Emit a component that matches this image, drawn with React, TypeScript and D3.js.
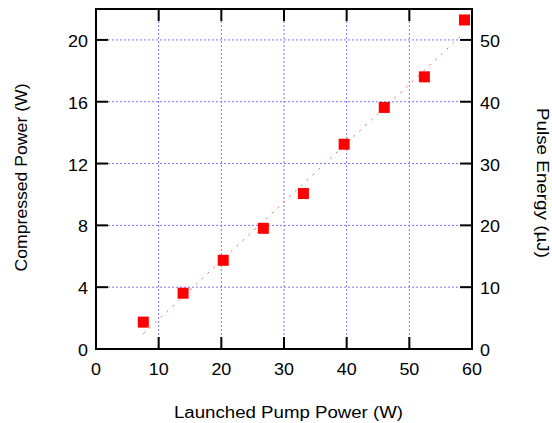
import React from "react";
import * as d3 from "d3";

// measured points
const pumpPower = [7.55, 13.9, 20.3, 26.7, 33.1, 39.6, 46.0, 52.4, 58.8];
const compressedPower = [1.74, 3.61, 5.74, 7.81, 10.06, 13.25, 15.63, 17.61, 21.29];

// linear fit (dotted line)
const fitX = [7.55, 58.3];
const fitY = [0.99, 20.28];

const xTicks = [0, 10, 20, 30, 40, 50, 60];
const leftTicks = [0, 4, 8, 12, 16, 20];
const rightTicks = [0, 10, 20, 30, 40, 50];

const width = 552;
const height = 423;
const margin = { top: 9, right: 80, bottom: 74, left: 96 };

export default function App() {
  const x = d3.scaleLinear().domain([0, 60]).range([margin.left, width - margin.right]);
  const y = d3.scaleLinear().domain([0, 22]).range([height - margin.bottom, margin.top]);
  const y2 = d3.scaleLinear().domain([0, 55]).range([height - margin.bottom, margin.top]);

  const x0 = x.range()[0];
  const x1 = x.range()[1];
  const yb = y.range()[0];
  const yt = y.range()[1];
  const tick = 12;
  const font = "'Liberation Sans', Arial, sans-serif";
  const stretch = "scale(1.12,1)"; // the reference text is a bit wide

  const fitLine = d3
    .line<number>()
    .x((d) => x(fitX[d]))
    .y((d) => y(fitY[d]));

  const sq = 11;

  return (
    <svg width={width} height={height} style={{ position: "absolute", left: 0, top: 0 }} fontFamily={font}>
      <rect width={width} height={height} fill="white" />
      {/* grid */}
      <g stroke="#7777ff" strokeWidth={1} strokeDasharray="2,2">
        {xTicks.slice(1, -1).map((t) => (
          <line key={"gx" + t} x1={x(t)} x2={x(t)} y1={yt} y2={yb} />
        ))}
        {leftTicks.slice(1).map((t) => (
          <line key={"gy" + t} x1={x0} x2={x1} y1={y(t)} y2={y(t)} />
        ))}
      </g>
      {/* fit */}
      <path
        d={fitLine([0, 1]) || ""}
        fill="none"
        stroke="#ff6060"
        strokeWidth={1}
        strokeDasharray="2,6"
      />
      {/* points */}
      {pumpPower.map((p, i) => (
        <rect
          key={i}
          x={x(p) - sq / 2}
          y={y(compressedPower[i]) - sq / 2}
          width={sq}
          height={sq}
          fill="#ff0000"
        />
      ))}
      {/* frame */}
      <rect x={x0} y={yt} width={x1 - x0} height={yb - yt} fill="none" stroke="black" strokeWidth={2} />
      {/* ticks */}
      <g stroke="black" strokeWidth={2}>
        {xTicks.map((t) => (
          <g key={"tx" + t}>
            <line x1={x(t)} x2={x(t)} y1={yb} y2={yb - tick} />
            <line x1={x(t)} x2={x(t)} y1={yt} y2={yt + tick} />
          </g>
        ))}
        {leftTicks.map((t) => (
          <line key={"tl" + t} x1={x0} x2={x0 + tick} y1={y(t)} y2={y(t)} />
        ))}
        {rightTicks.map((t) => (
          <line key={"tr" + t} x1={x1} x2={x1 - tick} y1={y2(t)} y2={y2(t)} />
        ))}
      </g>
      {/* tick labels */}
      <g fontSize={16} fill="black">
        {xTicks.map((t) => (
          <text key={"lx" + t} transform={`translate(${x(t)},${yb + 26}) ${stretch}`} textAnchor="middle">
            {t}
          </text>
        ))}
        {leftTicks.map((t) => (
          <text key={"ll" + t} transform={`translate(${x0 - 8},${y(t) + 7}) ${stretch}`} textAnchor="end">
            {t}
          </text>
        ))}
        {rightTicks.map((t) => (
          <text key={"lr" + t} transform={`translate(${x1 + 8},${y2(t) + 7}) ${stretch}`} textAnchor="start">
            {t}
          </text>
        ))}
      </g>
      {/* axis titles */}
      <g fontSize={16} fill="black">
        <text x={288.5} y={418} textAnchor="middle" textLength={229} lengthAdjust="spacingAndGlyphs">
          Launched Pump Power (W)
        </text>
        <text
          transform="translate(27,177.5) rotate(-90)"
          textAnchor="middle"
          textLength={188}
          lengthAdjust="spacingAndGlyphs"
        >
          Compressed Power (W)
        </text>
        <text
          transform="translate(537,183) rotate(90)"
          textAnchor="middle"
          textLength={150}
          lengthAdjust="spacingAndGlyphs"
        >
          Pulse Energy (µJ)
        </text>
      </g>
    </svg>
  );
}
